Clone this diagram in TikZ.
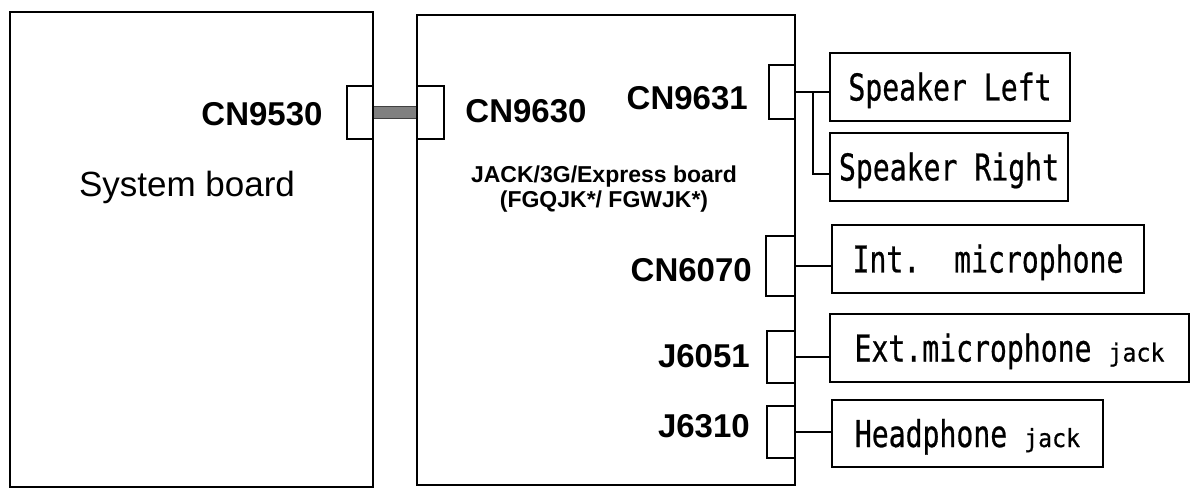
\documentclass[tikz,border=0pt]{standalone}
\usepackage{fontspec}
\setmainfont{Liberation Sans}
\newfontfamily\gothic[FakeStretch=0.76,FakeBold=0.6]{DejaVu Sans Mono}
\newfontfamily\gothicsmall[FakeStretch=0.93,FakeBold=0.6]{DejaVu Sans Mono}
\usetikzlibrary{calc}
\newcommand{\jackword}{{\gothicsmall\fontsize{25pt}{28pt}\selectfont jack}}

\begin{document}
\begin{tikzpicture}[x=1pt,y=-1pt,
  board/.style={draw, line width=2pt, inner sep=0pt},
  socket/.style={draw, line width=2pt, inner sep=0pt},
  part/.style={draw, line width=2pt, inner sep=0pt, minimum height=68pt,
    text height=27pt, text depth=0pt, font=\gothic\fontsize{37pt}{40pt}\selectfont},
  cnlabel/.style={inner sep=0pt, font=\bfseries\fontsize{33pt}{36pt}\selectfont},
  wire/.style={line width=2pt},
  cable/.style={draw=black!75, line width=1pt, double=gray, double distance=11pt}]
\useasboundingbox (0,0) rectangle (1195,497);
% boards
\node[board, minimum width=363pt, minimum height=475pt] (sysboard) at (191.5,249.5) {};
\node[board, minimum width=378pt, minimum height=470pt] (jackboard) at (606,250) {};
% connectors on the boards
\node[socket, minimum width=26pt, minimum height=53pt] (cn9530) at (360,112.5) {};
\node[socket, minimum width=27pt, minimum height=53pt] (cn9630) at (430.5,112.5) {};
\node[socket, minimum width=26pt, minimum height=54pt] (cn9631) at (782,92) {};
\node[socket, minimum width=29pt, minimum height=60pt] (cn6070) at (780.5,266) {};
\node[socket, minimum width=28pt, minimum height=52pt] (j6051) at (781,357) {};
\node[socket, minimum width=28pt, minimum height=52pt] (j6310) at (781,432) {};
% labels
\node[cnlabel, anchor=base] (lcn9530) at (262,126) {CN9530};
\node[cnlabel, anchor=base] (lcn9630) at (526,123) {CN9630};
\node[cnlabel, anchor=base east] (lcn9631) at (748,110) {CN9631};
\node[cnlabel, anchor=base east] (lcn6070) at (752,282) {CN6070};
\node[cnlabel, anchor=base east] (lj6051) at (750,367) {J6051};
\node[cnlabel, anchor=base east] (lj6310) at (750,437) {J6310};
\node[anchor=base, inner sep=0pt, font=\fontsize{35pt}{39pt}\selectfont] (lsys) at (187,197) {System board};
\node[align=center, inner sep=0pt, font=\bfseries\fontsize{23pt}{25pt}\selectfont] (ljack) at (604,189)
  {JACK/3G/Express board\\(FGQJK*/ FGWJK*)};
% audio parts
\node[part, minimum width=240pt] (spkl) at (950,87) {Speaker Left};
\node[part, minimum width=238pt] (spkr) at (949,167) {Speaker Right};
\node[part, minimum width=312pt] (intmic) at (988,259) {Int.\ \ microphone};
\node[part, minimum width=359pt] (extmic) at (1009.5,348) {Ext.microphone \jackword};
\node[part, minimum width=271pt, minimum height=67pt] (hphone) at (967.5,433.5) {Headphone \jackword};
% cables
\draw[cable] (cn9530.east) -- (cn9630.west);
\draw[wire] (cn9631.east) -- (cn9631.east -| spkl.west);
\coordinate (spkfork) at ($(cn9631.east)!0.5!(cn9631.east -| spkl.west)$);
\draw[wire] (spkfork) |- ([yshift=-7pt]spkr.west);
\draw[wire] (cn6070.east) -- (cn6070.east -| intmic.west);
\draw[wire] (j6051.east) -- (j6051.east -| extmic.west);
\draw[wire] (j6310.east) -- (j6310.east -| hphone.west);
\end{tikzpicture}
\end{document}
